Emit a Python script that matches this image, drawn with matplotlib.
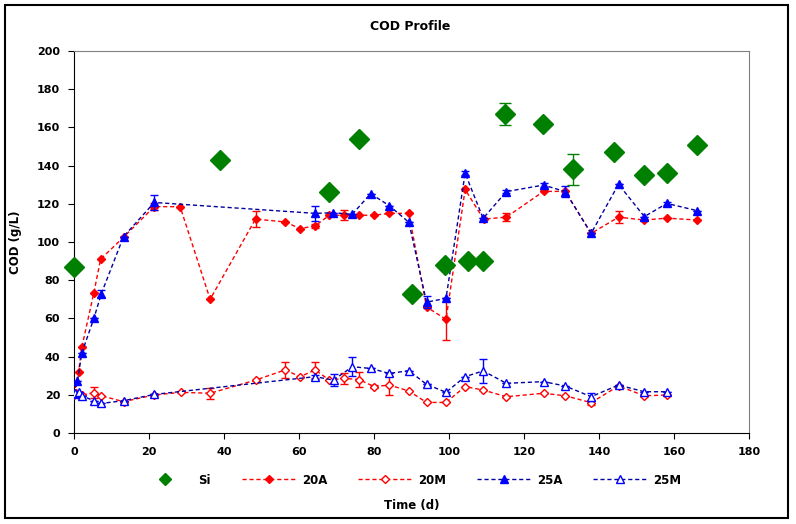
import numpy as np
import matplotlib
matplotlib.use("Agg")
import matplotlib.pyplot as plt
from matplotlib.patches import Rectangle
from matplotlib.lines import Line2D

plt.rcParams['font.family'] = ['DejaVu Sans']
plt.rcParams['font.weight'] = 'bold'

# Si
si_t = [0, 39, 68, 76, 90, 99, 105, 109, 115, 125, 133, 144, 152, 158, 166]
si = [87, 143, 126, 154, 73, 88, 90, 90, 167, 162, 138, 147, 135, 136, 151]
si_err = [0, 0, 0, 0, 0, 0, 0, 0, 6, 0, 8, 0, 0, 0, 0]

# 20A
a20_t = [0, 1.2, 2.1, 5.3, 7.1, 13.2, 21.4, 28.3, 36.3, 48.4, 56.3, 60.3, 64.3, 68.1, 72, 76,
         80, 84, 89.3, 94, 99.2, 104.3, 109.2, 115.3, 125.2, 131, 137.9, 145.2, 152.1, 158.1, 166.2]
a20 = [20, 32, 45, 73.5, 91, 102.5, 118.5, 118.5, 70, 112, 110.5, 107, 108.5, 114, 114, 114,
       114, 115, 115, 66, 59.5, 127.5, 112, 113, 126.5, 126.5, 104.5, 113, 111.5, 112.5, 111.5]
a20_err = [0, 0, 0, 0, 0, 0, 2, 0, 0, 4, 0, 0, 1, 0, 2.5, 0,
           0, 0, 0, 0, 11, 0, 0, 2, 0, 0, 0, 3, 0, 0, 0]

# 20M
m20_t = [0.5, 2.2, 5.3, 7.3, 13.2, 21.4, 28.4, 36.3, 48.4, 56.3, 60.3, 64.3, 68.1, 72, 76, 80,
         84.1, 89.3, 94, 99.2, 104.3, 109.1, 115.3, 125.2, 131, 137.9, 145.2, 152.1, 158.1]
m20 = [20.8, 19.9, 21.1, 19.5, 16.4, 19.9, 21.3, 20.8, 27.7, 33, 29.5, 33, 27.7, 28.6, 28, 24.3,
       25.1, 22, 16, 16, 24.3, 22.5, 19, 20.8, 19.5, 15.9, 24.6, 19.5, 19.9]
m20_err = [0, 0, 3, 0, 0, 0, 0, 3, 0, 4, 0, 4, 0, 3, 4, 1,
           5, 0, 0, 0, 0, 0, 0, 0, 0, 1, 0, 0, 0]

# 25A
a25_t = [0, 0.9, 2.1, 5.3, 7.3, 13.2, 21.4, 64.3, 69.1, 74.2, 79.1, 84.1, 89.3, 94, 99.2,
         104.3, 109.1, 115.3, 125.2, 131, 137.9, 145.2, 152.1, 158.1, 166.2]
a25 = [20.5, 27, 42, 60, 73, 102.8, 120.7, 115, 115.3, 114.5, 125.3, 119, 110.3, 68.5, 70.5,
       136, 112.4, 126.4, 129.8, 126.4, 104.5, 130.2, 113.3, 120.2, 116.4]
a25_err = [0, 0, 0, 0, 2, 0, 4, 4, 0, 0, 0, 0, 0, 3, 0,
           1, 0, 1, 1, 3, 0, 0, 0, 1, 0]

# 25M
m25_t = [0.2, 1.3, 2.2, 5.3, 7.3, 13.2, 21.4, 64.3, 69.2, 74.2, 79.1, 84.1, 89.3, 94, 99.2,
         104.3, 109.1, 115.3, 125.2, 131, 137.9, 145.2, 152.1, 158.1]
m25 = [21, 21.3, 19.4, 16.9, 15.5, 16.9, 20.2, 29.5, 27.7, 34.7, 33.8, 31.2, 32.6, 25.5, 21.3,
       29.5, 32.5, 26, 26.9, 24.6, 19, 25.1, 21.6, 21.6]
m25_err = [0, 0, 0, 0, 0, 0, 0, 1, 3, 5, 0, 0, 0, 0, 0,
           0, 6.5, 0, 0, 0, 2, 0, 0, 0]

fig = plt.figure(figsize=(7.96, 5.24), dpi=100)
ax = fig.add_axes([74/796, 91/524, 675/796, 382/524])

red = "#FF0000"
blue = "#0000FF"
dblue = "#0000A0"
green = "#008000"
dash = (0, (3, 2))

si_eb = ax.errorbar(si_t, si, yerr=si_err, fmt="D", color=green, ms=10, capsize=4,
                    elinewidth=1, zorder=5)
for art in si_eb.get_children():
    art.set_clip_on(False)
ax.errorbar(a20_t, a20, yerr=a20_err, fmt="D", ls=dash, lw=1, color=red, mfc=red,
            mec=red, ms=4.5, ecolor=red, capsize=3, zorder=3)
ax.errorbar(m20_t, m20, yerr=m20_err, fmt="D", ls=dash, lw=1, color=red, mfc="white",
            mec=red, ms=4.5, ecolor=red, capsize=3, zorder=3)
ax.errorbar(a25_t, a25, yerr=a25_err, fmt="^", ls=dash, lw=1, color=dblue, mfc=blue,
            mec=blue, ms=5.5, ecolor=blue, capsize=3, zorder=4)
ax.errorbar(m25_t, m25, yerr=m25_err, fmt="^", ls=dash, lw=1, color=dblue, mfc="white",
            mec=blue, ms=5.5, ecolor=blue, capsize=3, zorder=4)

ax.set_xlim(0, 180)
ax.set_ylim(0, 200)
ax.set_xticks(np.arange(0, 181, 20))
ax.set_yticks(np.arange(0, 201, 20))
ax.tick_params(direction="out", length=4, labelsize=8, pad=6, color="black")
for lab in ax.get_xticklabels() + ax.get_yticklabels():
    lab.set_fontweight("bold")
ax.spines["top"].set_color("#808080")
ax.spines["right"].set_color("#808080")
ax.spines["left"].set_color("black")
ax.spines["bottom"].set_color("black")

fig.text(410/796, 1 - 26/524, "COD Profile", ha="center", va="center", fontsize=9, fontweight="bold")
fig.text(16/796, 1 - 242/524, "COD (g/L)", ha="center", va="center", rotation=90, fontsize=8.5, fontweight="bold")
fig.text(412/796, 1 - 506/524, "Time (d)", ha="center", va="center", fontsize=8.5, fontweight="bold")

handles = [
    Line2D([], [], ls="none", marker="D", color=green, ms=6),
    Line2D([], [], ls=dash, lw=1, marker="D", color=red, mfc=red, ms=4.5),
    Line2D([], [], ls=dash, lw=1, marker="D", color=red, mfc="white", mec=red, ms=4.5),
    Line2D([], [], ls=dash, lw=1, marker="^", color=dblue, mfc=blue, mec=blue, ms=5.5),
    Line2D([], [], ls=dash, lw=1, marker="^", color=dblue, mfc="white", mec=blue, ms=5.5),
]
labels = ["Si", "20A", "20M", "25A", "25M"]
leg = fig.legend(handles, labels, loc="center", bbox_to_anchor=(410/796, 1 - 480/524), ncol=5,
                 frameon=False, fontsize=8.5, handlelength=4.6, columnspacing=2.6,
                 handletextpad=0.5)
for t in leg.get_texts():
    t.set_fontweight("bold")

fig.add_artist(Rectangle((5/796, 6/524), 783/796, 513/524, transform=fig.transFigure,
                         fill=False, ec="black", lw=1.5))

fig.savefig("out.png", dpi=100)
